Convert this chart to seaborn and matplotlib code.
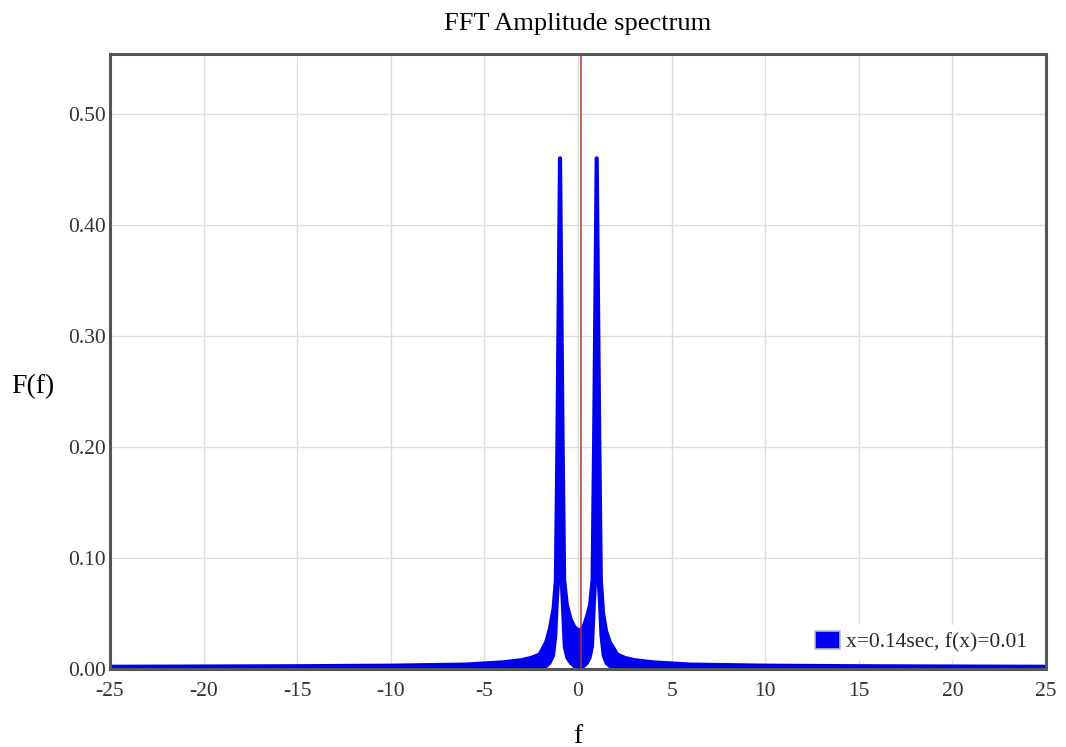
import matplotlib
matplotlib.use('Agg')
import matplotlib.pyplot as plt
from matplotlib.patches import Patch
import seaborn as sns
import pandas as pd

# frequenze e inviluppo (superiore / inferiore)
freq = [-25, -15, -10, -6, -4, -3, -2.5, -2.05,
        -1.7, -1.5, -1.3, -1.18, -1.1, -0.96, -0.82, -0.74,
        -0.6, -0.4, -0.2, 0.08,
        0.3, 0.5, 0.65, 0.78, 0.86, 1.0, 1.14, 1.22,
        1.34, 1.5, 1.7, 2.1, 2.5, 3, 4, 6,
        10, 15, 25]
ampiezza_sup = [0.002, 0.0025, 0.003, 0.004, 0.006, 0.008, 0.01, 0.013,
                0.024, 0.036, 0.055, 0.08, 0.2, 0.46, 0.2, 0.08,
                0.058, 0.045, 0.038, 0.034,
                0.038, 0.048, 0.058, 0.08, 0.2, 0.46, 0.2, 0.08,
                0.05, 0.034, 0.024, 0.013, 0.01, 0.008, 0.006, 0.004,
                0.003, 0.0025, 0.002]
ampiezza_inf = [0, 0, 0, 0, 0, 0, 0, 0,
                0.002, 0.005, 0.012, 0.03, 0.06, 0.1, 0.05, 0.02,
                0.01, 0.005, 0.002, 0,
                0.002, 0.005, 0.01, 0.02, 0.05, 0.1, 0.06, 0.03,
                0.012, 0.005, 0.002, 0, 0, 0, 0, 0,
                0, 0, 0]
cursore_x = 0.17
etichetta_legenda = 'x=0.14sec, f(x)=0.01'
x_ticks = list(range(-25, 26, 5))
y_ticks = [0.0, 0.1, 0.2, 0.3, 0.4, 0.5]

df = pd.DataFrame({'f': freq, 'sup': ampiezza_sup, 'inf': ampiezza_inf})

sns.set_theme(style='whitegrid')
plt.rcParams['font.family'] = ['Liberation Serif', 'DejaVu Serif']
plt.rcParams['axes.unicode_minus'] = False

fig = plt.figure(figsize=(10.66, 7.47), dpi=100)
ax = fig.add_axes([0.1032, 0.1044, 0.8780, 0.8233])

blu = '#0000ee'
ax.fill_between(df['f'], df['inf'], df['sup'], color=blu, lw=0, zorder=3)
sns.lineplot(data=df, x='f', y='sup', ax=ax, color=blu, lw=3.0, sort=False, zorder=4,
             solid_capstyle='round', solid_joinstyle='round')
sns.lineplot(data=df, x='f', y='inf', ax=ax, color=blu, lw=2.0, sort=False, zorder=4)
ax.axvline(cursore_x, color='#b8322a', lw=1.1, zorder=5)

ax.set_xlim(-25, 25)
ax.set_ylim(0, 0.554)
ax.set_xticks(x_ticks)
ax.set_yticks(y_ticks)
ax.set_yticklabels([f'{v:.2f}' for v in y_ticks])
ax.tick_params(axis='both', labelsize=15.5, colors='#333333', length=0)
ax.tick_params(axis='x', pad=9)
ax.tick_params(axis='y', pad=3)
ax.grid(True, color='#dddddd', lw=1)
for s in ax.spines.values():
    s.set_color('#555555')
    s.set_linewidth(2.2)
    s.set_zorder(6)

ax.set_title('FFT Amplitude spectrum', fontsize=19, color='black', pad=17)
ax.set_xlabel('f', fontsize=20, color='black', labelpad=17)
ax.set_ylabel('F(f)', fontsize=20, color='black', rotation=0, va='center', ha='center')
ax.yaxis.set_label_coords(-0.082, 0.46)

handle = Patch(facecolor=blu, edgecolor='#bbbbbb', lw=1.2)
leg = ax.legend([handle], [etichetta_legenda], loc='lower right',
                bbox_to_anchor=(0.998, -0.001), fontsize=15.5, frameon=True,
                fancybox=False, handlelength=1.2, handleheight=0.9,
                handletextpad=0.25, borderpad=0.3)
leg.get_frame().set_facecolor('white')
leg.get_frame().set_edgecolor('white')
leg.get_frame().set_alpha(1)
leg.set_zorder(7)

fig.savefig('out.png', dpi=100)
